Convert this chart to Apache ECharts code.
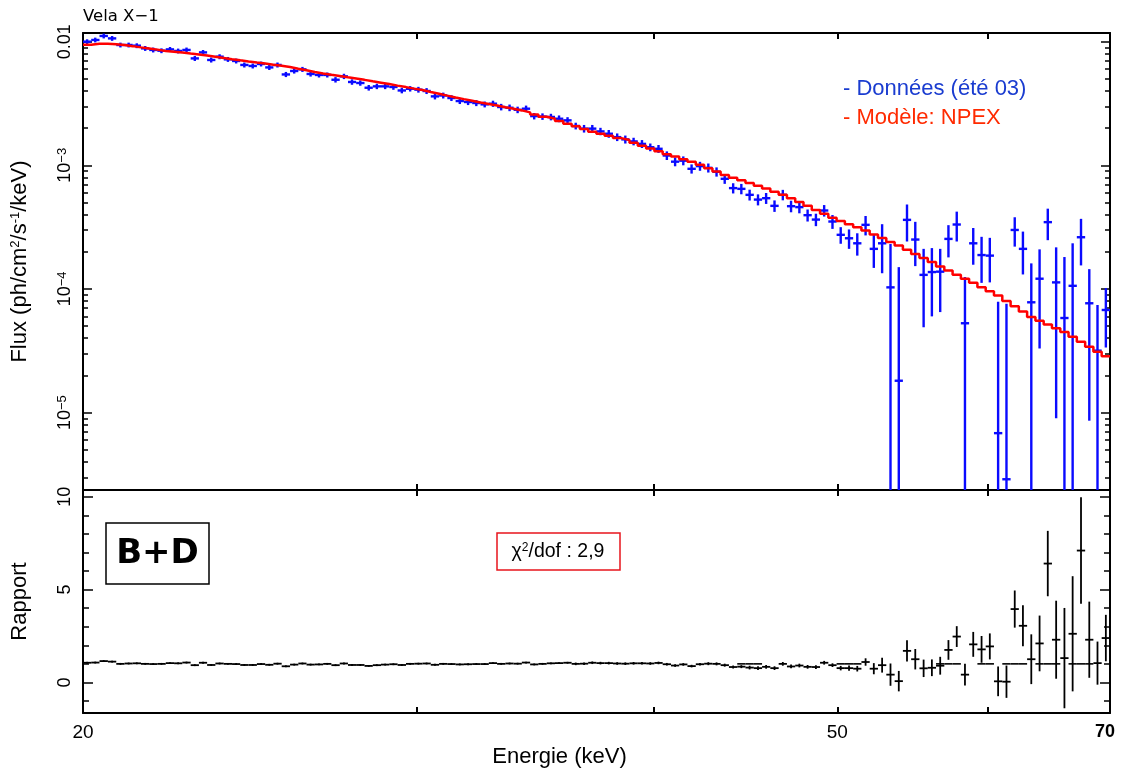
<!DOCTYPE html>
<html><head><meta charset="utf-8">
<script src="https://cdn.jsdelivr.net/npm/echarts@6/dist/echarts.min.js"></script>
<style>html,body{margin:0;padding:0;background:#fff}#c{width:1125px;height:772px}</style>
</head><body><div id="c"></div><script>
// ---- data ----
const energyKeV = [
20.10,20.30,20.51,20.72,20.93,21.14,21.35,21.57,21.78,22.00,
22.23,22.45,22.68,22.91,23.14,23.37,23.61,23.85,24.09,24.33,
24.58,24.83,25.08,25.33,25.59,25.85,26.11,26.37,26.64,26.91,
27.18,27.46,27.73,28.01,28.30,28.58,28.87,29.16,29.46,29.76,
30.06,30.36,30.67,30.98,31.29,31.61,31.93,32.25,32.58,32.91,
33.24,33.58,33.91,34.26,34.60,34.95,35.31,35.66,36.03,36.39,
36.76,37.13,37.50,37.88,38.27,38.65,39.04,39.44,39.84,40.24,
40.65,41.06,41.47,41.89,42.32,42.75,43.18,43.61,44.06,44.50,
44.95,45.41,45.86,46.33,46.80,47.27,47.75,48.23,48.72,49.21,
49.71,50.21,50.72,51.23,51.75,52.27,52.80,53.34,53.88,54.42,
54.97,55.53,56.09,56.66,57.23,57.81,58.39,58.98,59.58,60.18,
60.79,61.41,62.03,62.65,63.29,63.93,64.57,65.23,65.89,66.55,
67.23,67.91,68.59,69.29];
const fluxData = [
1.000e-2,1.032e-2,1.112e-2,1.063e-2,9.40e-3,9.40e-3,9.28e-3,8.82e-3,8.57e-3,8.45e-3,
8.66e-3,8.41e-3,8.57e-3,7.32e-3,8.19e-3,7.11e-3,7.56e-3,7.19e-3,6.98e-3,6.48e-3,
6.36e-3,6.60e-3,6.19e-3,6.48e-3,5.43e-3,5.79e-3,5.97e-3,5.48e-3,5.38e-3,5.38e-3,
4.92e-3,5.24e-3,4.72e-3,4.63e-3,4.24e-3,4.35e-3,4.35e-3,4.30e-3,4.03e-3,4.16e-3,
4.09e-3,3.99e-3,3.61e-3,3.67e-3,3.50e-3,3.31e-3,3.25e-3,3.19e-3,3.11e-3,3.15e-3,
2.96e-3,2.92e-3,2.81e-3,2.87e-3,2.50e-3,2.48e-3,2.46e-3,2.38e-3,2.31e-3,2.08e-3,
1.98e-3,1.98e-3,1.88e-3,1.80e-3,1.69e-3,1.62e-3,1.56e-3,1.49e-3,1.40e-3,1.36e-3,
1.20e-3,1.07e-3,1.09e-3,9.37e-4,9.85e-4,9.54e-4,8.86e-4,7.78e-4,6.54e-4,6.45e-4,
5.77e-4,5.28e-4,5.42e-4,4.70e-4,5.77e-4,4.67e-4,4.59e-4,3.95e-4,3.64e-4,4.31e-4,
3.51e-4,2.74e-4,2.57e-4,2.34e-4,3.30e-4,2.11e-4,2.34e-4,1.03e-4,1.81e-5,3.62e-4,
2.51e-4,1.30e-4,1.37e-4,1.38e-4,2.54e-4,3.32e-4,5.28e-5,2.34e-4,1.88e-4,1.86e-4,
6.82e-6,2.89e-6,3.00e-4,2.11e-4,7.80e-5,1.21e-4,3.47e-4,1.13e-4,5.82e-5,1.06e-4,
2.62e-4,7.66e-5,3.17e-5,6.76e-5];
const fluxErr = [
4.5e-4,4.6e-4,5.0e-4,4.8e-4,4.2e-4,4.2e-4,4.2e-4,4.0e-4,3.9e-4,3.8e-4,
3.9e-4,3.8e-4,3.9e-4,3.4e-4,3.7e-4,3.3e-4,3.5e-4,3.3e-4,3.2e-4,3.0e-4,
2.9e-4,3.0e-4,2.9e-4,3.0e-4,2.6e-4,2.7e-4,2.8e-4,2.6e-4,2.5e-4,2.5e-4,
2.5e-4,2.6e-4,2.4e-4,2.3e-4,2.2e-4,2.2e-4,2.2e-4,2.2e-4,2.1e-4,2.1e-4,
2.2e-4,2.2e-4,2.0e-4,2.0e-4,1.9e-4,1.8e-4,1.8e-4,1.8e-4,1.7e-4,1.8e-4,
1.8e-4,1.8e-4,1.7e-4,1.7e-4,1.5e-4,1.5e-4,1.5e-4,1.5e-4,1.4e-4,1.3e-4,
1.4e-4,1.4e-4,1.3e-4,1.3e-4,1.2e-4,1.2e-4,1.1e-4,1.1e-4,1.0e-4,1.0e-4,
9.6e-5,8.8e-5,9.0e-5,8.0e-5,8.2e-5,8.0e-5,7.6e-5,7.0e-5,6.2e-5,6.2e-5,
5.8e-5,5.4e-5,5.5e-5,5.0e-5,5.6e-5,5.0e-5,5.0e-5,4.4e-5,4.2e-5,4.6e-5,
4.5e-5,4.2e-5,4.6e-5,4.8e-5,5.9e-5,6.3e-5,1.0e-4,1.28e-4,1.32e-4,1.2e-4,
9.8e-5,8.1e-5,7.7e-5,7.3e-5,7.4e-5,9.0e-5,7.2e-5,7.7e-5,7.6e-5,7.3e-5,
7.2e-5,7.3e-5,8.0e-5,8.0e-5,8.3e-5,8.8e-5,9.9e-5,1.04e-4,1.23e-4,1.28e-4,
1.07e-4,6.8e-5,4.25e-5,3.4e-5];
const fluxModel = [
9.46e-3,9.63e-3,9.63e-3,9.53e-3,9.40e-3,9.20e-3,8.99e-3,8.81e-3,8.62e-3,8.42e-3,
8.30e-3,8.16e-3,8.02e-3,7.89e-3,7.74e-3,7.56e-3,7.39e-3,7.22e-3,7.06e-3,6.91e-3,
6.77e-3,6.65e-3,6.51e-3,6.39e-3,6.23e-3,6.04e-3,5.87e-3,5.69e-3,5.53e-3,5.40e-3,
5.28e-3,5.15e-3,5.03e-3,4.91e-3,4.78e-3,4.66e-3,4.54e-3,4.41e-3,4.29e-3,4.17e-3,
4.06e-3,3.92e-3,3.79e-3,3.66e-3,3.54e-3,3.43e-3,3.33e-3,3.22e-3,3.13e-3,3.04e-3,
2.95e-3,2.87e-3,2.78e-3,2.68e-3,2.57e-3,2.47e-3,2.38e-3,2.28e-3,2.17e-3,2.07e-3,
1.97e-3,1.87e-3,1.80e-3,1.73e-3,1.66e-3,1.60e-3,1.52e-3,1.44e-3,1.37e-3,1.30e-3,
1.23e-3,1.18e-3,1.12e-3,1.07e-3,1.01e-3,9.47e-4,8.89e-4,8.36e-4,7.92e-4,7.56e-4,
7.18e-4,6.82e-4,6.49e-4,6.12e-4,5.77e-4,5.42e-4,5.06e-4,4.70e-4,4.36e-4,4.05e-4,
3.76e-4,3.54e-4,3.33e-4,3.15e-4,2.97e-4,2.76e-4,2.58e-4,2.40e-4,2.25e-4,2.08e-4,
1.92e-4,1.78e-4,1.65e-4,1.52e-4,1.41e-4,1.30e-4,1.21e-4,1.12e-4,1.03e-4,9.58e-5,
8.87e-5,8.00e-5,7.23e-5,6.56e-5,5.94e-5,5.53e-5,5.16e-5,4.82e-5,4.49e-5,4.11e-5,
3.74e-5,3.41e-5,3.11e-5,2.85e-5];
const ratioData = [
1.06,1.07,1.15,1.12,1.00,1.02,1.03,1.00,0.99,1.00,
1.04,1.03,1.07,0.93,1.06,0.94,1.02,1.00,0.99,0.94,
0.94,0.99,0.95,1.01,0.87,0.96,1.02,0.96,0.97,1.00,
0.93,1.02,0.94,0.94,0.89,0.93,0.96,0.98,0.94,1.00,
1.01,1.02,0.95,1.00,0.99,0.97,0.98,0.99,0.99,1.04,
1.00,1.02,1.01,1.07,0.97,1.00,1.03,1.04,1.06,1.00,
1.01,1.06,1.04,1.04,1.02,1.01,1.03,1.03,1.02,1.05,
0.98,0.91,0.97,0.88,0.98,1.01,1.00,0.93,0.83,0.85,
0.80,0.77,0.84,0.77,1.00,0.86,0.91,0.84,0.83,1.06,
0.93,0.77,0.77,0.74,1.10,0.74,0.93,0.42,0.07,1.70,
1.25,0.76,0.79,0.90,1.75,2.47,0.42,2.05,1.78,1.94,
0.06,0.04,3.95,3.05,1.25,2.10,6.40,2.30,1.31,2.62,
7.10,2.30,1.04,2.39];
const ratioErr = [
0.05,0.05,0.05,0.05,0.05,0.05,0.05,0.05,0.05,0.05,
0.05,0.05,0.05,0.05,0.05,0.05,0.05,0.05,0.05,0.05,
0.05,0.05,0.05,0.05,0.05,0.05,0.05,0.05,0.05,0.05,
0.05,0.05,0.05,0.05,0.05,0.05,0.05,0.05,0.05,0.05,
0.05,0.05,0.05,0.05,0.05,0.05,0.05,0.05,0.05,0.05,
0.05,0.05,0.05,0.05,0.05,0.05,0.05,0.05,0.05,0.07,
0.07,0.07,0.07,0.07,0.07,0.07,0.07,0.07,0.07,0.07,
0.07,0.07,0.07,0.07,0.07,0.08,0.08,0.08,0.08,0.08,
0.10,0.10,0.10,0.10,0.10,0.10,0.10,0.10,0.10,0.10,
0.10,0.12,0.14,0.15,0.20,0.30,0.40,0.60,0.55,0.57,
0.55,0.47,0.45,0.48,0.53,0.56,0.58,0.67,0.72,0.70,
0.80,0.87,1.00,1.10,1.34,1.50,1.76,2.10,2.70,3.10,
2.87,2.05,1.16,1.25];
const unityBins = [79,80,81,91,92,93,103,104,105,108,109,111,112,113,115,116,117,119,120,121];

const xRange = [20, 69.64];
const xTickValues = [30, 40, 50, 60];
const xLabelValues = [20, 50, 70];
const fluxRange = [2.366e-6, 0.01175];
const fluxMajor = [1e-5, 1e-4, 1e-3, 1e-2];
const fluxMajorLabels = ['10{sup|−5}', '10{sup|−4}', '10{sup|−3}', '0.01'];
const ratioRange = [-1.645, 10.36];
const ratioMajor = [0, 5, 10];
const ratioMajorLabels = ['0', '5', '10'];
const ratioMinor = [-1, 1, 2, 3, 4, 6, 7, 8, 9];

// ---- build ----
const L = Math.log10;
const N = energyKeV.length;
const lo = [], hi = [];
for (let i = 0; i < N; i++) {
  lo.push(i === 0 ? xRange[0] : Math.sqrt(energyKeV[i - 1] * energyKeV[i]));
  hi.push(i === N - 1 ? xRange[1] : Math.sqrt(energyKeV[i] * energyKeV[i + 1]));
}
const fMinL = L(fluxRange[0]), fMaxL = L(fluxRange[1]);
const fluxMinor = [];
for (let d = -6; d <= -2; d++) for (let k = 2; k <= 9; k++) {
  const v = k * Math.pow(10, d);
  if (v > fluxRange[0] && v < fluxRange[1]) fluxMinor.push(L(v));
}
const upperItems = energyKeV.map((e, i) => {
  const f = fluxData[i], er = fluxErr[i];
  const low = f - er > 0 ? Math.max(L(f - er), fMinL) : fMinL;
  return [L(lo[i]), L(hi[i]), L(f), low, Math.min(L(f + er), fMaxL), L(e)];
});
const modelLine = [];
energyKeV.forEach((e, i) => { modelLine.push([L(lo[i]), L(fluxModel[i])]); modelLine.push([L(hi[i]), L(fluxModel[i])]); });
const lowerItems = energyKeV.map((e, i) => {
  const r = ratioData[i], er = ratioErr[i];
  return [L(lo[i]), L(hi[i]), r, Math.max(r - er, ratioRange[0]), Math.min(r + er, ratioRange[1]), L(e)];
});
const unityItems = unityBins.map(i => [L(lo[i]), L(hi[i]), 1]);

function crossRenderer(color, w) {
  return function (params, api) {
    const x0 = api.value(0), x1 = api.value(1), y = api.value(2), yl = api.value(3), yh = api.value(4), xc = api.value(5);
    const a = api.coord([x0, y]), b = api.coord([x1, y]);
    const c = api.coord([xc, yl]), d = api.coord([xc, yh]);
    const st = { stroke: color, lineWidth: w };
    return { type: 'group', children: [
      { type: 'line', shape: { x1: a[0], y1: a[1], x2: b[0], y2: b[1] }, style: st },
      { type: 'line', shape: { x1: c[0], y1: c[1], x2: d[0], y2: d[1] }, style: st }
    ] };
  };
}
function segRenderer(color, w) {
  return function (params, api) {
    const a = api.coord([api.value(0), api.value(2)]), b = api.coord([api.value(1), api.value(2)]);
    return { type: 'line', shape: { x1: a[0], y1: a[1], x2: b[0], y2: b[1] }, style: { stroke: color, lineWidth: w } };
  };
}

const FONT = 'Liberation Sans, Arial, sans-serif';
const black = '#000';
function xAx(grid, pos, labels) {
  const ax = {
    type: 'value', gridIndex: grid, position: pos, min: L(xRange[0]), max: L(xRange[1]),
    axisLine: { show: true, onZero: false, lineStyle: { color: black, width: 2 } },
    axisTick: { show: true, inside: true, length: 6, lineStyle: { color: black, width: 2 }, customValues: xTickValues.map(L) },
    axisLabel: { show: false }, splitLine: { show: false }
  };
  if (labels) {
    const pos2 = xLabelValues.map(v => L(Math.min(v, xRange[1])));
    ax.axisLabel = {
      show: true, customValues: pos2, margin: 10, fontFamily: FONT, fontSize: 19, color: black,
      formatter: (v) => {
        let best = 0;
        pos2.forEach((p, k) => { if (Math.abs(p - v) < Math.abs(pos2[best] - v)) best = k; });
        return best === xLabelValues.length - 1 ? '{b|' + xLabelValues[best] + '}' : String(xLabelValues[best]);
      },
      rich: { b: { fontFamily: FONT, fontSize: 18, fontWeight: 'bold', color: black, padding: [0, 10, 0, 0] } }
    };
    ax.name = 'Energie (keV)';
    ax.nameLocation = 'middle';
    ax.nameGap = 33;
    ax.nameTextStyle = { fontFamily: FONT, fontSize: 22, color: black, padding: [0, 74, 0, 0] };
  }
  return ax;
}
function yAx(grid, pos, range, ticks, len, showLine, labelCfg, name) {
  const ax = {
    type: 'value', gridIndex: grid, position: pos, min: range[0], max: range[1],
    axisLine: { show: showLine, onZero: false, lineStyle: { color: black, width: 2 } },
    axisTick: { show: true, inside: true, length: len, lineStyle: { color: black, width: 1.5 }, customValues: ticks },
    axisLabel: { show: false }, splitLine: { show: false }
  };
  if (labelCfg) ax.axisLabel = labelCfg;
  if (name) {
    ax.name = name; ax.nameLocation = 'middle'; ax.nameGap = 52; ax.nameRotate = 90;
    ax.nameTextStyle = { fontFamily: FONT, fontSize: 22, color: black,
      rich: { sup: { fontFamily: FONT, fontSize: 13, color: black, verticalAlign: 'top', lineHeight: 13 } } };
  }
  return ax;
}
const fluxMajorL = fluxMajor.map(L);
const upperLabels = {
  show: true, customValues: fluxMajorL, rotate: 90, margin: 9, fontFamily: FONT, fontSize: 18, color: black,
  formatter: (v) => { let k = 0; fluxMajorL.forEach((p, j) => { if (Math.abs(p - v) < Math.abs(fluxMajorL[k] - v)) k = j; }); return fluxMajorLabels[k]; },
  rich: { sup: { fontFamily: FONT, fontSize: 13, color: black, verticalAlign: 'top', lineHeight: 13 } }
};
const lowerLabels = {
  show: true, customValues: ratioMajor, rotate: 90, margin: 9, fontFamily: FONT, fontSize: 18, color: black,
  formatter: (v) => ratioMajorLabels[ratioMajor.indexOf(Math.round(v))]
};

const chart = echarts.init(document.getElementById('c'), null, { renderer: 'canvas' });
chart.setOption({
  animation: false,
  backgroundColor: '#fff',
  grid: [
    { left: 83, top: 33, width: 1027, height: 457 },
    { left: 83, top: 490, width: 1027, height: 223 }
  ],
  xAxis: [xAx(0, 'bottom', false), xAx(0, 'top', false), xAx(1, 'top', false), xAx(1, 'bottom', true)],
  yAxis: [
    yAx(0, 'left', [fMinL, fMaxL], fluxMajorL, 9, true, upperLabels, 'Flux (ph/cm{sup|2}/s{sup|-1}/keV)'),
    yAx(0, 'left', [fMinL, fMaxL], fluxMinor, 5, false),
    yAx(0, 'right', [fMinL, fMaxL], fluxMajorL, 9, true),
    yAx(0, 'right', [fMinL, fMaxL], fluxMinor, 5, false),
    yAx(1, 'left', ratioRange, ratioMajor, 10, true, lowerLabels, 'Rapport'),
    yAx(1, 'left', ratioRange, ratioMinor, 6, false),
    yAx(1, 'right', ratioRange, ratioMajor, 10, true),
    yAx(1, 'right', ratioRange, ratioMinor, 6, false)
  ],
  series: [
    { type: 'custom', name: 'Données', xAxisIndex: 0, yAxisIndex: 0, data: upperItems,
      encode: { x: [0, 1, 5], y: [2, 3, 4] }, renderItem: crossRenderer('#0a0aff', 2.4), z: 2, silent: true },
    { type: 'line', name: 'Modèle', xAxisIndex: 0, yAxisIndex: 0, data: modelLine, showSymbol: false,
      lineStyle: { color: '#ff0000', width: 2.5 }, z: 3, silent: true },
    { type: 'custom', name: 'Unité', xAxisIndex: 3, yAxisIndex: 4, data: unityItems,
      encode: { x: [0, 1], y: [2] }, renderItem: segRenderer('#000', 1.6), z: 2, silent: true },
    { type: 'custom', name: 'Rapport', xAxisIndex: 3, yAxisIndex: 4, data: lowerItems,
      encode: { x: [0, 1, 5], y: [2, 3, 4] }, renderItem: crossRenderer('#000', 1.8), z: 3, silent: true }
  ],
  graphic: [
    { type: 'text', left: 83, top: 8, style: { text: 'Vela X−1', fontFamily: 'DejaVu Sans, sans-serif', fontSize: 16.5, fill: '#000' } },
    { type: 'text', left: 843, top: 78, style: { text: '- Données (été 03)', fontFamily: FONT, fontSize: 22, fill: '#1a3cd0' } },
    { type: 'text', left: 843, top: 107, style: { text: '- Modèle: NPEX', fontFamily: FONT, fontSize: 22, fill: '#ff2a00' } },
    { type: 'rect', shape: { x: 106, y: 523, width: 103, height: 61 }, style: { fill: 'none', stroke: '#000', lineWidth: 1.5 } },
    { type: 'text', x: 157.5, y: 554, style: { text: 'B+D', fontFamily: 'DejaVu Sans, sans-serif', fontWeight: 'bold', fontSize: 34, fill: '#000', align: 'center', verticalAlign: 'middle' } },
    { type: 'rect', shape: { x: 497, y: 533, width: 123, height: 37 }, style: { fill: 'none', stroke: '#e8141c', lineWidth: 1.5 } },
    { type: 'text', x: 558, y: 552, style: { text: 'χ{sup|2}/dof : 2,9', fontFamily: FONT, fontSize: 19.5, fill: '#000', align: 'center', verticalAlign: 'middle',
      rich: { sup: { fontFamily: FONT, fontSize: 12, fill: '#000', verticalAlign: 'top', lineHeight: 12 } } } }
  ]
});
</script></body></html>
